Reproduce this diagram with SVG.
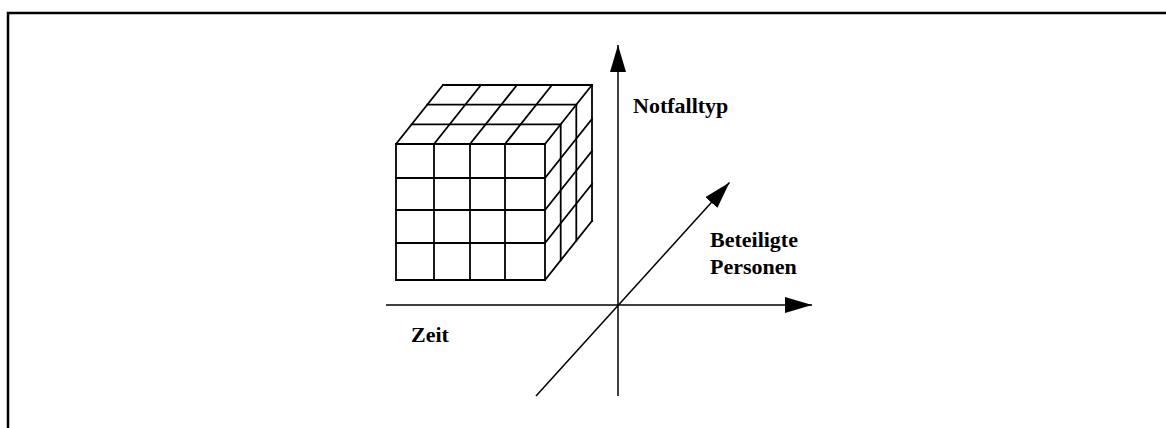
<svg xmlns="http://www.w3.org/2000/svg" width="1166" height="428" viewBox="0 0 1166 428">
<style>
.c{stroke:#000;stroke-width:1.8;fill:none;stroke-linecap:square}
.a{stroke:#000;stroke-width:1.5;fill:none}
.t{font-family:"Liberation Serif","Times New Roman",serif;font-weight:bold;font-size:22px;fill:#000}
</style>
<defs>
<marker id="ah" markerUnits="userSpaceOnUse" markerWidth="28" markerHeight="18" refX="27" refY="8" orient="auto">
<path d="M0,0 L27,8 L0,16 Z" fill="#000"/>
</marker>
</defs>
<rect width="1166" height="428" fill="#fff"/>
<g id="frame"><path d="M8,428 V13 H1166" stroke="#000" stroke-width="2.5" fill="none"/></g>
<g id="cube" class="c">
<line x1="396" y1="144" x2="396" y2="280"/>
<line x1="434" y1="144" x2="434" y2="280"/>
<line x1="470" y1="144" x2="470" y2="280"/>
<line x1="505" y1="144" x2="505" y2="280"/>
<line x1="545" y1="144" x2="545" y2="280"/>
<line x1="396" y1="144" x2="545" y2="144"/>
<line x1="396" y1="178" x2="545" y2="178"/>
<line x1="396" y1="210" x2="545" y2="210"/>
<line x1="396" y1="243" x2="545" y2="243"/>
<line x1="396" y1="280" x2="545" y2="280"/>
<line x1="411.7" y1="124.3" x2="560.7" y2="124.3"/>
<line x1="427.3" y1="104.7" x2="576.3" y2="104.7"/>
<line x1="443" y1="85" x2="592" y2="85"/>
<line x1="396" y1="144" x2="443" y2="85"/>
<line x1="434" y1="144" x2="481" y2="85"/>
<line x1="470" y1="144" x2="517" y2="85"/>
<line x1="505" y1="144" x2="552" y2="85"/>
<line x1="545" y1="144" x2="592" y2="85"/>
<line x1="560.7" y1="124.3" x2="560.7" y2="260.3"/>
<line x1="576.3" y1="104.7" x2="576.3" y2="240.7"/>
<line x1="592" y1="85" x2="592" y2="221"/>
<line x1="545" y1="178" x2="592" y2="119"/>
<line x1="545" y1="210" x2="592" y2="151"/>
<line x1="545" y1="243" x2="592" y2="184"/>
<line x1="545" y1="280" x2="592" y2="221"/>
</g>
<g id="connectors" class="a">
<line x1="618" y1="396" x2="618" y2="45" marker-end="url(#ah)"/>
<line x1="386" y1="305" x2="812" y2="305" marker-end="url(#ah)"/>
<line x1="536" y1="396" x2="729.5" y2="182.5" marker-end="url(#ah)"/>
</g>
<g id="label-notfalltyp"><text class="t" x="633" y="113">Notfalltyp</text></g>
<g id="label-personen"><text class="t" x="710" y="247">Beteiligte</text><text class="t" x="710" y="274">Personen</text></g>
<g id="label-zeit"><text class="t" x="411" y="342">Zeit</text></g>
</svg>
